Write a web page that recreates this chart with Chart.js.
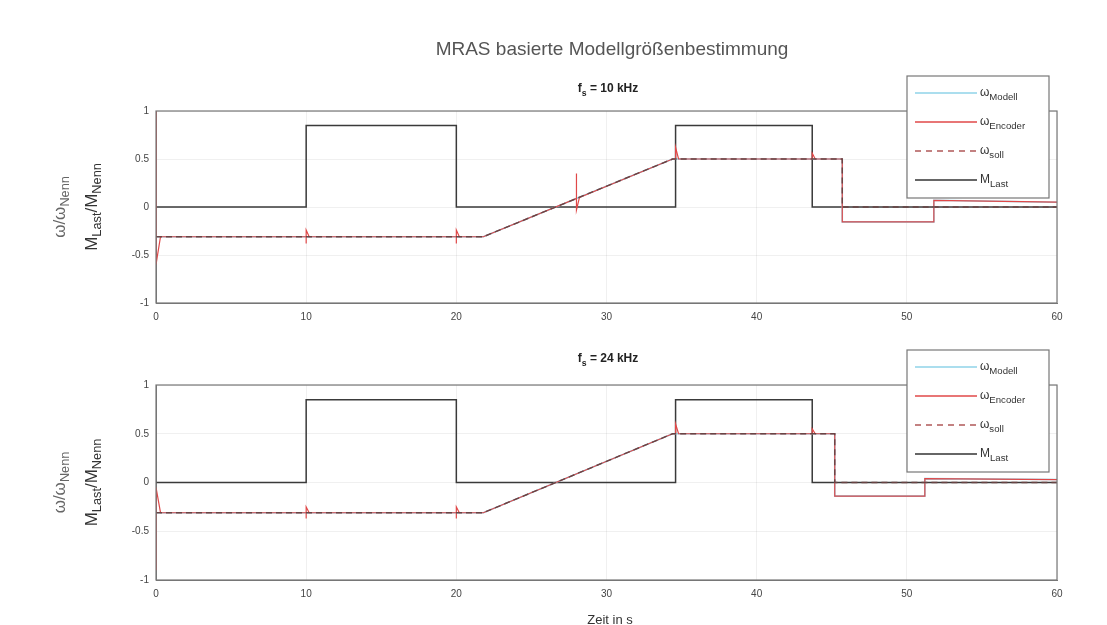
<!DOCTYPE html>
<html>
<head>
<meta charset="utf-8">
<script src="https://cdn.jsdelivr.net/npm/chart.js@4"></script>
<style>
  body { margin: 0; background: #fff; }
  .wrap { position: relative; width: 1107px; height: 625px; overflow: hidden; }
  canvas { position: absolute; left: 0; }
</style>
</head>
<body>
<div class="wrap">
  <canvas id="plotTop" width="1107" height="330" style="top:0"></canvas>
  <canvas id="plotBottom" width="1107" height="295" style="top:330px"></canvas>
</div>
<script>
// load torque, same in both plots
const tLoad = [0, 10, 10, 20, 20, 34.6, 34.6, 43.7, 43.7, 60];
const mLast = [0, 0, 0.85, 0.85, 0, 0, 0.85, 0.85, 0, 0];

// f = 10 kHz
const tEnc10 = [0, 0, 0, 0.3, 10, 10, 10, 10.2, 20, 20, 20, 20.2, 21.8, 28, 28, 28, 28.2, 34.4, 34.6, 34.6, 34.8, 43.7, 43.7, 43.9, 45.7, 45.7, 51.8, 51.8, 60];
const wEnc10 = [0, 1, -0.6, -0.31, -0.31, -0.38, -0.24, -0.31, -0.31, -0.38, -0.24, -0.31, -0.31, 0.09, 0.35, -0.03, 0.10, 0.5, 0.5, 0.62, 0.5, 0.5, 0.56, 0.5, 0.5, -0.155, -0.155, 0.07, 0.05];
const tMod10 = [0, 21.8, 34.4, 45.7, 45.7, 51.8, 51.8, 60];
const wMod10 = [-0.31, -0.31, 0.5, 0.5, -0.155, -0.155, 0.07, 0.05];
const tSoll10 = [0, 21.8, 34.4, 45.7, 45.7, 60];
const wSoll10 = [-0.31, -0.31, 0.5, 0.5, 0, 0];

// f = 24 kHz
const tEnc24 = [0, 0, 0, 0.3, 10, 10, 10, 10.2, 20, 20, 20, 20.2, 21.8, 34.4, 34.6, 34.6, 34.8, 43.7, 43.7, 43.9, 45.2, 45.2, 51.2, 51.2, 60];
const wEnc24 = [-0.31, -0.9, -0.05, -0.31, -0.31, -0.37, -0.25, -0.31, -0.31, -0.37, -0.25, -0.31, -0.31, 0.5, 0.5, 0.6, 0.5, 0.5, 0.55, 0.5, 0.5, -0.14, -0.14, 0.04, 0.03];
const tMod24 = [0, 21.8, 34.4, 45.2, 45.2, 51.2, 51.2, 60];
const wMod24 = [-0.31, -0.31, 0.5, 0.5, -0.14, -0.14, 0.04, 0.03];
const tSoll24 = [0, 21.8, 34.4, 45.2, 45.2, 60];
const wSoll24 = [-0.31, -0.31, 0.5, 0.5, 0, 0];

const xTicks = [0, 10, 20, 30, 40, 50, 60];
const yTicks = [-1, -0.5, 0, 0.5, 1];

const FONT = "'Liberation Sans', Arial, sans-serif";
const legendItems = [
  { base: 'ω', sub: 'Modell', color: '#8fd3e8', dash: [] },
  { base: 'ω', sub: 'Encoder', color: '#e04848', dash: [] },
  { base: 'ω', sub: 'soll', color: '#b05858', dash: [6, 5] },
  { base: 'M', sub: 'Last', color: '#333', dash: [] },
];

function zip(t, v) {
  return t.map((x, i) => ({ x: x, y: v[i] }));
}

// draws pieces [[text, isSub], ...] starting at x, returns end x
function drawPieces(ctx, pieces, x, y, size, bold, subRatio) {
  const r = subRatio || 0.72;
  pieces.forEach(([txt, sub]) => {
    const s = sub ? size * r : size;
    ctx.font = (bold ? 'bold ' : '') + s + 'px ' + FONT;
    ctx.fillText(txt, x, sub ? y + size * 0.35 : y);
    x += ctx.measureText(txt).width;
  });
  return x;
}

function piecesWidth(ctx, pieces, size, bold, subRatio) {
  const r = subRatio || 0.72;
  let w = 0;
  pieces.forEach(([txt, sub]) => {
    ctx.font = (bold ? 'bold ' : '') + (sub ? size * r : size) + 'px ' + FONT;
    w += ctx.measureText(txt).width;
  });
  return w;
}

function decorPlugin(opts) {
  return {
    id: 'decor',
    afterDraw(chart) {
      const ctx = chart.ctx;
      const a = chart.chartArea;
      ctx.save();
      // axes box
      ctx.strokeStyle = '#777';
      ctx.lineWidth = 1.2;
      ctx.strokeRect(a.left, a.top, a.right - a.left, a.bottom - a.top);

      ctx.textBaseline = 'middle';
      // main title
      if (opts.mainTitle) {
        ctx.font = '19px ' + FONT;
        ctx.fillStyle = '#555';
        ctx.textAlign = 'center';
        ctx.fillText(opts.mainTitle, 612, 50);
        ctx.textAlign = 'left';
      }
      // subplot title
      ctx.fillStyle = '#222';
      const tp = [['f', false], ['s', true], [' = ' + opts.freq, false]];
      const tw = piecesWidth(ctx, tp, 12, true);
      drawPieces(ctx, tp, 608 - tw / 2, opts.titleY, 12, true);

      // y label, two rotated lines
      const cy = (a.top + a.bottom) / 2;
      const lines = [
        { x: 60, color: '#666', p: [['ω/ω', false], ['Nenn', true]] },
        { x: 92, color: '#333', p: [['M', false], ['Last', true], ['/M', false], ['Nenn', true]] },
      ];
      lines.forEach(l => {
        ctx.save();
        ctx.translate(l.x, cy);
        ctx.rotate(-Math.PI / 2);
        const w = piecesWidth(ctx, l.p, 17, false, 0.75);
        ctx.fillStyle = l.color;
        drawPieces(ctx, l.p, -w / 2, 0, 17, false, 0.75);
        ctx.restore();
      });

      // legend
      const lg = opts.legend;
      ctx.fillStyle = '#fff';
      ctx.fillRect(lg.x, lg.y, lg.w, lg.h);
      ctx.strokeStyle = '#777';
      ctx.lineWidth = 1.2;
      ctx.strokeRect(lg.x, lg.y, lg.w, lg.h);
      legendItems.forEach((it, i) => {
        const y = lg.y + 17 + i * 29;
        ctx.strokeStyle = it.color;
        ctx.lineWidth = 1.3;
        ctx.setLineDash(it.dash);
        ctx.beginPath();
        ctx.moveTo(lg.x + 8, y);
        ctx.lineTo(lg.x + 70, y);
        ctx.stroke();
        ctx.setLineDash([]);
        ctx.fillStyle = '#333';
        drawPieces(ctx, [[it.base, false], [it.sub, true]], lg.x + 73, y, 12, false, 0.8);
      });

      // x label
      if (opts.xLabel) {
        ctx.fillStyle = '#333';
        ctx.font = '13px ' + FONT;
        ctx.textAlign = 'center';
        ctx.fillText(opts.xLabel, 610, opts.xLabelY);
      }
      ctx.restore();
    }
  };
}

function makePlot(id, series, opts) {
  const ctx = document.getElementById(id).getContext('2d');
  return new Chart(ctx, {
    type: 'line',
    data: {
      datasets: [
        { label: 'ω_soll', data: zip(series.tSoll, series.wSoll), borderColor: '#6a4444', borderWidth: 1.4, borderDash: [6, 4], order: 0 },
        { label: 'ω_Encoder', data: zip(series.tEnc, series.wEnc), borderColor: '#e04848', borderWidth: 1.2, order: 1 },
        { label: 'ω_Modell', data: zip(series.tMod, series.wMod), borderColor: '#8fd3e8', borderWidth: 1.6, order: 2 },
        { label: 'M_Last', data: zip(tLoad, mLast), borderColor: '#3a3a3a', borderWidth: 1.5, order: 3 },
      ].map(d => Object.assign({ pointRadius: 0, tension: 0, fill: false }, d)),
    },
    options: {
      responsive: false,
      animation: false,
      devicePixelRatio: 1,
      layout: { padding: { top: opts.padTop, right: 50, bottom: opts.padBottom, left: 0 } },
      plugins: { legend: { display: false }, tooltip: { enabled: false } },
      scales: {
        x: {
          type: 'linear', min: 0, max: 60,
          afterBuildTicks: s => { s.ticks = xTicks.map(v => ({ value: v })); },
          ticks: { color: '#444', font: { size: 10, family: FONT }, padding: 8, maxRotation: 0, callback: v => String(v) },
          grid: { color: 'rgba(0,0,0,0.06)', drawTicks: false },
          border: { color: '#777' },
          afterFit: s => { s.height = 22; },
        },
        y: {
          min: -1, max: 1,
          afterBuildTicks: s => { s.ticks = yTicks.map(v => ({ value: v })); },
          ticks: { color: '#444', font: { size: 10, family: FONT }, padding: 7, callback: v => String(v) },
          grid: { color: 'rgba(0,0,0,0.06)', drawTicks: false },
          border: { color: '#777' },
          afterFit: s => { s.width = 156; },
        },
      },
    },
    plugins: [decorPlugin(opts)],
  });
}

makePlot('plotTop',
  { tEnc: tEnc10, wEnc: wEnc10, tMod: tMod10, wMod: wMod10, tSoll: tSoll10, wSoll: wSoll10 },
  { padTop: 111, padBottom: 5, freq: '10 kHz', titleY: 89,
    mainTitle: 'MRAS basierte Modellgrößenbestimmung',
    legend: { x: 907, y: 76, w: 142, h: 122 } });

makePlot('plotBottom',
  { tEnc: tEnc24, wEnc: wEnc24, tMod: tMod24, wMod: wMod24, tSoll: tSoll24, wSoll: wSoll24 },
  { padTop: 55, padBottom: 23, freq: '24 kHz', titleY: 29,
    legend: { x: 907, y: 20, w: 142, h: 122 },
    xLabel: 'Zeit in s', xLabelY: 290 });
</script>
</body>
</html>
